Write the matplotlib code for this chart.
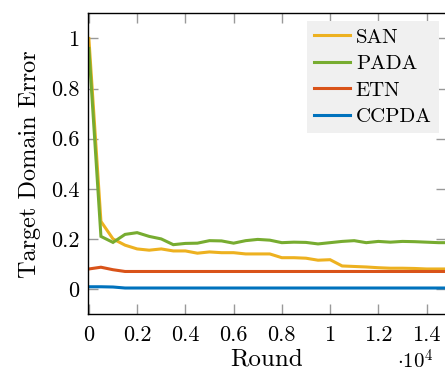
import matplotlib as mpl
mpl.use('Agg')
import matplotlib.pyplot as plt
from matplotlib.ticker import FuncFormatter

plt.rcParams['font.family'] = ['cmr10', 'DejaVu Serif']
plt.rcParams['mathtext.fontset'] = 'cm'
plt.rcParams['axes.unicode_minus'] = False

# rounds, every 500
rounds = [i * 500 for i in range(31)]

san = [1.0, 0.27, 0.20, 0.175, 0.16, 0.155, 0.16, 0.152, 0.152, 0.143,
       0.148, 0.145, 0.145, 0.14, 0.14, 0.14, 0.125, 0.125, 0.123, 0.115,
       0.117, 0.092, 0.09, 0.088, 0.085, 0.083, 0.083, 0.082, 0.08, 0.08, 0.08]
pada = [0.96, 0.21, 0.186, 0.218, 0.225, 0.21, 0.20, 0.177, 0.182, 0.183,
        0.193, 0.192, 0.183, 0.193, 0.198, 0.195, 0.185, 0.187, 0.186, 0.18,
        0.185, 0.19, 0.193, 0.185, 0.19, 0.187, 0.19, 0.189, 0.187, 0.185, 0.185]
etn = [0.08, 0.087, 0.077, 0.07] + [0.07] * 27
ccpda = [0.009, 0.009, 0.008, 0.004] + [0.004] * 27

series = [("SAN", san, "#EDB120"),
          ("PADA", pada, "#77AC30"),
          ("ETN", etn, "#D95319"),
          ("CCPDA", ccpda, "#0072BD")]

fig = plt.figure(figsize=(4.45, 3.73), dpi=100)
ax = fig.add_axes([0.197, 0.158, 0.806, 0.806])

for name, vals, col in series:
    ax.plot(rounds, vals, color=col, lw=2.2, label=name, solid_joinstyle='miter')

ax.set_xlim(-50, 14820)
ax.set_ylim(-0.1, 1.1)
ax.set_xticks([i * 2000 for i in range(8)])
ax.set_yticks([0, 0.2, 0.4, 0.6, 0.8, 1.0])
ax.xaxis.set_major_formatter(FuncFormatter(lambda v, p: "{:g}".format(round(v / 1e4, 2))))
ax.yaxis.set_major_formatter(FuncFormatter(lambda v, p: "{:g}".format(round(v, 2))))
ax.tick_params(direction='in', length=7, width=1, color='#999999',
               top=True, right=True, labelsize=16)
ax.tick_params(axis='x', pad=8)
ax.tick_params(axis='y', pad=6)
for s in ax.spines.values():
    s.set_linewidth(1)

ax.set_xlabel("Round", fontsize=18, labelpad=3)
ax.set_ylabel("Target Domain Error", fontsize=17.5, labelpad=7)
fig.text(0.893, 0.0, r"$\cdot 10^4$", fontsize=15, ha='left', va='bottom')

leg = ax.legend(loc='upper right', fontsize=15, frameon=True, fancybox=False,
                handlelength=1.7, handletextpad=0.3, borderaxespad=0.35,
                labelspacing=0.38, borderpad=0.35)
leg.get_frame().set_facecolor('#f0f0f0')
leg.get_frame().set_edgecolor('none')
leg.get_frame().set_alpha(1)

fig.savefig("out.png", dpi=100)
